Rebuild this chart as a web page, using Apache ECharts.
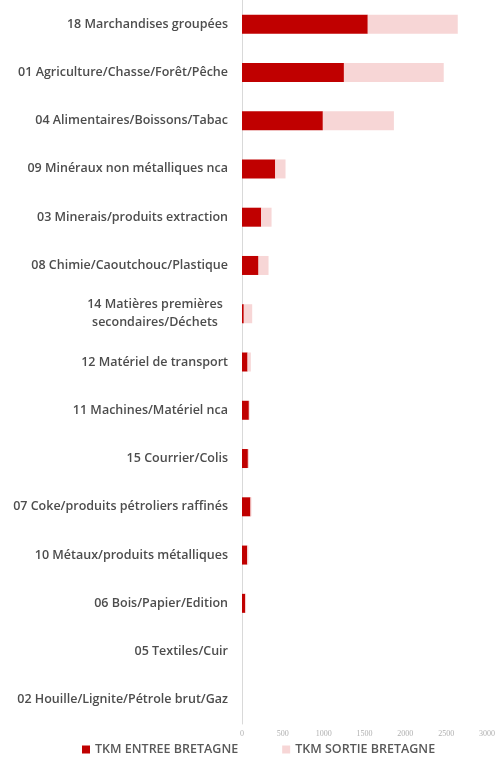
<!DOCTYPE html>
<html>
<head>
<meta charset="utf-8">
<script src="https://cdn.jsdelivr.net/npm/echarts@6/dist/echarts.min.js"></script>
<style>
  html, body { margin: 0; padding: 0; background: #ffffff; }
  #chart { width: 498px; height: 763px; }
</style>
</head>
<body>
<div id="chart"></div>
<script>
// Freight flows by commodity group (tonne-kilometres)
const categories = [
  "18 Marchandises groupées",
  "01 Agriculture/Chasse/Forêt/Pêche",
  "04 Alimentaires/Boissons/Tabac",
  "09 Minéraux non métalliques nca",
  "03 Minerais/produits extraction",
  "08 Chimie/Caoutchouc/Plastique",
  "14 Matières premières\nsecondaires/Déchets",
  "12 Matériel de transport",
  "11 Machines/Matériel nca",
  "15 Courrier/Colis",
  "07 Coke/produits pétroliers raffinés",
  "10 Métaux/produits métalliques",
  "06 Bois/Papier/Edition",
  "05 Textiles/Cuir",
  "02 Houille/Lignite/Pétrole brut/Gaz"
];
const tkmEntree = [1540, 1248, 990, 407, 235, 202, 22, 68, 84, 72, 104, 64, 40, 0, 0];
const tkmSortie = [1102, 1222, 870, 126, 127, 123, 103, 40, 10, 14, 12, 14, 10, 0, 0];
const xTicks = { min: 0, max: 3000, interval: 500 };

const chart = echarts.init(document.getElementById('chart'));
const labelFont = '"Open Sans", Lato, sans-serif';

chart.setOption({
  animation: false,
  backgroundColor: '#ffffff',
  grid: { left: 242, right: 10, top: -2, bottom: 39, containLabel: false },
  legend: {
    bottom: 2,
    left: 77,
    itemWidth: 8,
    itemHeight: 8,
    itemGap: 44,
    icon: 'rect',
    textStyle: { color: '#595959', fontSize: 12.5, fontWeight: 600, fontFamily: labelFont },
    data: ['TKM ENTREE BRETAGNE', 'TKM SORTIE BRETAGNE']
  },
  xAxis: {
    type: 'value',
    min: xTicks.min,
    max: xTicks.max,
    interval: xTicks.interval,
    axisLine: { show: false },
    axisTick: { show: false },
    splitLine: { show: false },
    axisLabel: {
      color: '#b0b0b0',
      fontSize: 8,
      fontFamily: '"Liberation Serif", serif',
      margin: 6,
      formatter: function (v) { return String(v); }
    }
  },
  yAxis: {
    type: 'category',
    inverse: true,
    data: categories,
    axisLine: { show: true, lineStyle: { color: '#d9d9d9', width: 1 } },
    axisTick: { show: false },
    axisLabel: {
      color: '#4d4d4d',
      fontSize: 12.5,
      fontWeight: 600,
      fontFamily: labelFont,
      margin: 14,
      lineHeight: 18,
      formatter: function (v) {
        if (v.indexOf('\n') >= 0) {
          return v.split('\n').map(function (s) { return '{c|' + s + '}'; }).join('\n');
        }
        return v;
      },
      rich: {
        c: { width: 146, align: 'center', fontSize: 12.5, fontWeight: 600, color: '#4d4d4d', fontFamily: labelFont, lineHeight: 18 }
      }
    }
  },
  series: [
    {
      name: 'TKM ENTREE BRETAGNE',
      type: 'bar',
      stack: 'tkm',
      data: tkmEntree,
      barWidth: 19,
      itemStyle: { color: '#c00000' }
    },
    {
      name: 'TKM SORTIE BRETAGNE',
      type: 'bar',
      stack: 'tkm',
      data: tkmSortie,
      barWidth: 19,
      itemStyle: { color: '#f7d6d6' }
    }
  ]
});
</script>
</body>
</html>
